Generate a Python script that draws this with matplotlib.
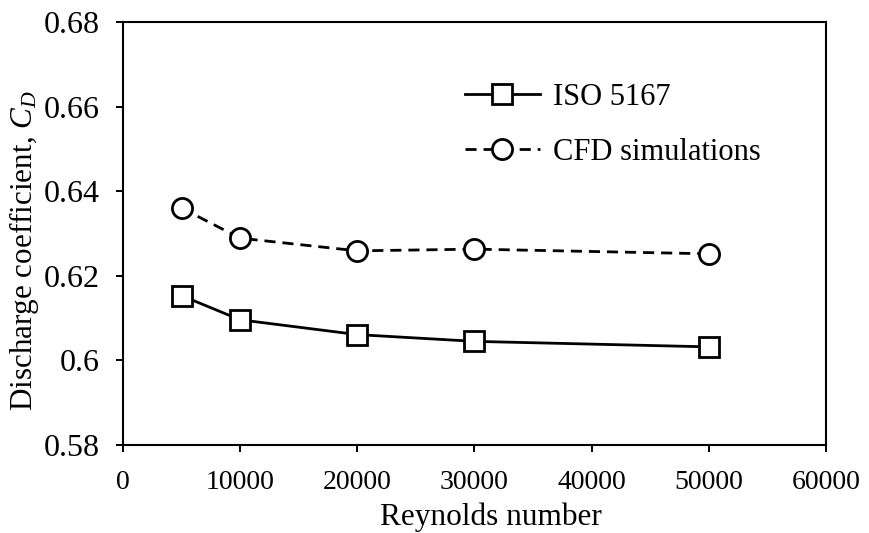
import numpy as np
from matplotlib import pyplot as plt

plt.rcParams['font.family'] = ['Liberation Serif', 'DejaVu Serif']
plt.rcParams['mathtext.fontset'] = 'custom'
plt.rcParams['mathtext.it'] = 'Liberation Serif:italic'
plt.rcParams['mathtext.rm'] = 'Liberation Serif'

Re = [5000, 10000, 20000, 30000, 50000]
cd_iso = [0.6153, 0.6096, 0.6061, 0.6045, 0.6032]
cd_cfd = [0.6360, 0.6289, 0.6259, 0.6263, 0.6252]

fig = plt.figure(figsize=(8.7, 5.33), dpi=100)
ax = fig.add_axes([123/870, 1-445/533, (826-123)/870, (445-22)/533])

ax.plot(Re, cd_iso, 'k-', marker='s', markersize=14.5, markerfacecolor='white',
        markeredgewidth=2.0, linewidth=2.0, label='ISO 5167')
ax.plot(Re, cd_cfd, 'k--', marker='o', markersize=14.5, markerfacecolor='white',
        markeredgewidth=2.0, linewidth=2.0, dashes=(4, 2.5), label='CFD simulations')

ax.set_xlim(0, 60000)
ax.set_ylim(0.58, 0.68)
ax.set_xticks(np.arange(0, 60001, 10000))
ax.set_yticks([0.58, 0.60, 0.62, 0.64, 0.66, 0.68])
ax.set_yticklabels(['0.58', '0.6', '0.62', '0.64', '0.66', '0.68'])
ax.tick_params(direction='out', length=5, width=1.4)
ax.tick_params(axis='x', pad=13, labelsize=20)
ax.tick_params(axis='y', pad=12, labelsize=23)
for s in ax.spines.values():
    s.set_linewidth(1.5)

ax.set_xlabel('Reynolds number', fontsize=22.5)
ax.xaxis.set_label_coords(0.523, -0.136)
ax.set_ylabel('Discharge coefficient, $C_D$', fontsize=22.4)
ax.yaxis.set_label_coords(-0.1166, 0.459)

ax.legend(loc='upper left', bbox_to_anchor=(0.486, 0.856), frameon=False, fontsize=22,
          handlelength=2.45, handletextpad=0.45, labelspacing=0.86,
          borderaxespad=0, borderpad=0)

plt.savefig('out.png', dpi=100)
